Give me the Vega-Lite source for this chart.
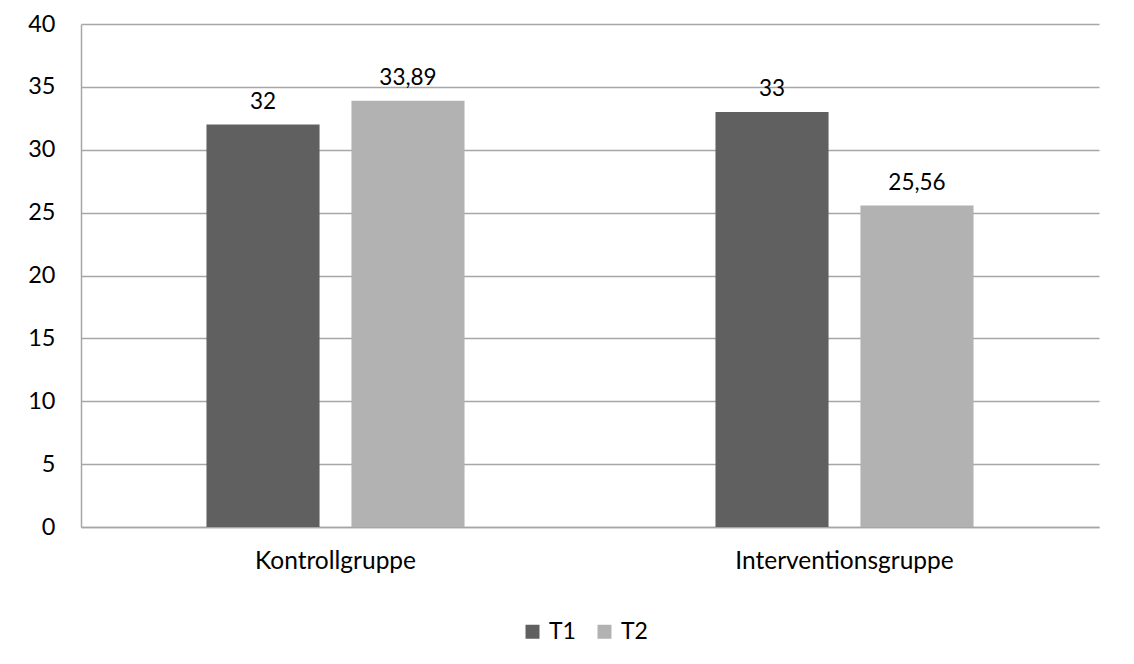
{
  "$schema": "https://vega.github.io/schema/vega-lite/v6.json",
  "width": 1018,
  "height": 503,
  "autosize": {"type": "none"},
  "padding": {"left": 81, "top": 24, "right": 35, "bottom": 137},
  "background": "white",
  "config": {
    "locale": {"number": {"decimal": ",", "thousands": ".", "grouping": [3], "currency": ["", " €"]}},
    "font": "Lato",
    "view": {"stroke": null},
    "axis": {"labelFont": "Lato", "labelColor": "#000000", "domainColor": "#a6a6a6", "gridColor": "#a6a6a6", "ticks": false, "title": null, "labelLimit": 0}
  },
  "data": {
    "values": [
      {"gruppe": "Kontrollgruppe", "zeit": "T1", "wert": 32},
      {"gruppe": "Kontrollgruppe", "zeit": "T2", "wert": 33.89},
      {"gruppe": "Interventionsgruppe", "zeit": "T1", "wert": 33},
      {"gruppe": "Interventionsgruppe", "zeit": "T2", "wert": 25.56}
    ]
  },
  "encoding": {
    "x": {
      "field": "gruppe", "type": "nominal",
      "sort": ["Kontrollgruppe", "Interventionsgruppe"],
      "scale": {"paddingInner": 0.493, "paddingOuter": 0.2465},
      "axis": {"labelAngle": 0, "labelFontSize": 24.5, "labelPadding": 22, "domainWidth": 1.5, "grid": false}
    },
    "xOffset": {"field": "zeit", "type": "nominal", "scale": {"paddingInner": 0.22, "paddingOuter": 0}},
    "y": {
      "field": "wert", "type": "quantitative",
      "scale": {"domain": [0, 40], "nice": false},
      "axis": {"values": [0, 5, 10, 15, 20, 25, 30, 35, 40], "labelFontSize": 23.5, "labelPadding": 26, "domainWidth": 1.5, "gridWidth": 1.5}
    }
  },
  "layer": [
    {
      "mark": {"type": "bar"},
      "encoding": {
        "color": {
          "field": "zeit", "type": "nominal",
          "scale": {"domain": ["T1", "T2"], "range": ["#606060", "#b2b2b2"]},
          "legend": {
            "title": null, "orient": "none", "direction": "horizontal",
            "legendX": 440, "legendY": 596,
            "symbolType": "square", "symbolSize": 196, "symbolStrokeWidth": 0,
            "labelFontSize": 23, "labelFont": "Lato", "labelColor": "#000000",
            "columnPadding": 17, "labelOffset": 5
          }
        }
      }
    },
    {
      "mark": {"type": "text", "baseline": "bottom", "dy": -11, "fontSize": 22.5, "color": "#000000"},
      "encoding": {
        "text": {"field": "wert", "type": "quantitative", "format": ".4~g"}
      }
    }
  ]
}
